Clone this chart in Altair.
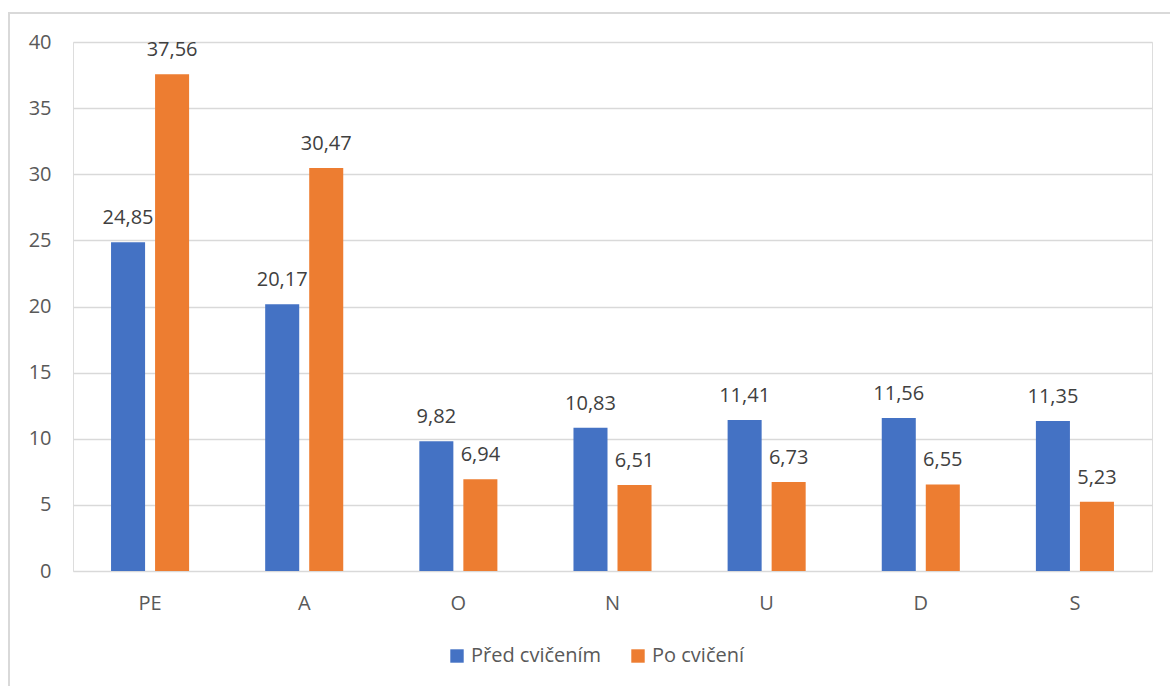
import altair as alt
import pandas as pd

categories = ["PE", "A", "O", "N", "U", "D", "S"]
series_names = ["Před cvičením", "Po cvičení"]
pred_values = [24.85, 20.17, 9.82, 10.83, 11.41, 11.56, 11.35]
po_values = [37.56, 30.47, 6.94, 6.51, 6.73, 6.55, 5.23]
colors = ["#4472C4", "#ED7D31"]
y_ticks = [0, 5, 10, 15, 20, 25, 30, 35, 40]

rows = []
for cat, a, b in zip(categories, pred_values, po_values):
    rows.append({"kat": cat, "serie": series_names[0], "hodnota": a,
                 "popisek": f"{a:.2f}".replace(".", ",")})
    rows.append({"kat": cat, "serie": series_names[1], "hodnota": b,
                 "popisek": f"{b:.2f}".replace(".", ",")})
df = pd.DataFrame(rows)

FONT = "Open Sans"
TEXT = "#595959"

x_enc = alt.X("kat:N", sort=categories, title=None,
              scale=alt.Scale(paddingInner=0, paddingOuter=0),
              axis=alt.Axis(labelAngle=0, labelFontSize=20, labelColor=TEXT,
                            labelFont=FONT, labelPadding=22, ticks=False,
                            domain=False))
xoff = alt.XOffset("serie:N", sort=series_names,
                   scale=alt.Scale(paddingInner=0.227, paddingOuter=0.864))
y_enc = alt.Y("hodnota:Q", title=None,
              scale=alt.Scale(domain=[0, 40], nice=False),
              axis=alt.Axis(values=y_ticks, labelFontSize=20, labelColor=TEXT,
                            labelFont=FONT, labelPadding=22, ticks=False,
                            domain=False, gridColor="#d9d9d9", gridWidth=1.5))
color_enc = alt.Color("serie:N", sort=series_names, title=None,
                      scale=alt.Scale(domain=series_names, range=colors),
                      legend=alt.Legend(orient="none", direction="horizontal",
                                        legendX=374, legendY=604,
                                        symbolType="square", symbolSize=180,
                                        symbolStrokeWidth=0,
                                        labelFontSize=20, labelColor=TEXT,
                                        labelFont=FONT, columnPadding=26,
                                        labelOffset=4))

# outer chart frame, partly cropped on the right and bottom
frame = alt.Chart(pd.DataFrame({"f": [0]})).mark_rect(
    fill=None, stroke="#d9d9d9", strokeWidth=2
).encode(x=alt.value(-64), x2=alt.value(1200), y=alt.value(-29), y2=alt.value(700))

bars = alt.Chart(df).mark_bar().encode(
    x=x_enc, xOffset=xoff, y=y_enc, color=color_enc
)

labels = alt.Chart(df).mark_text(
    fontSize=20, font=FONT, color="#404040", baseline="alphabetic", dy=-18
).encode(x=x_enc, xOffset=xoff, y=alt.Y("hodnota:Q"), text="popisek:N")

chart = alt.layer(frame, bars, labels).properties(
    width=1079, height=529,
    autosize=alt.AutoSizeParams(type="none"),
    padding={"left": 73, "top": 42, "right": 18, "bottom": 115},
).configure_view(stroke=None).configure(background="white")

chart.save("out.html", embed_options={"renderer": "svg", "actions": False})
